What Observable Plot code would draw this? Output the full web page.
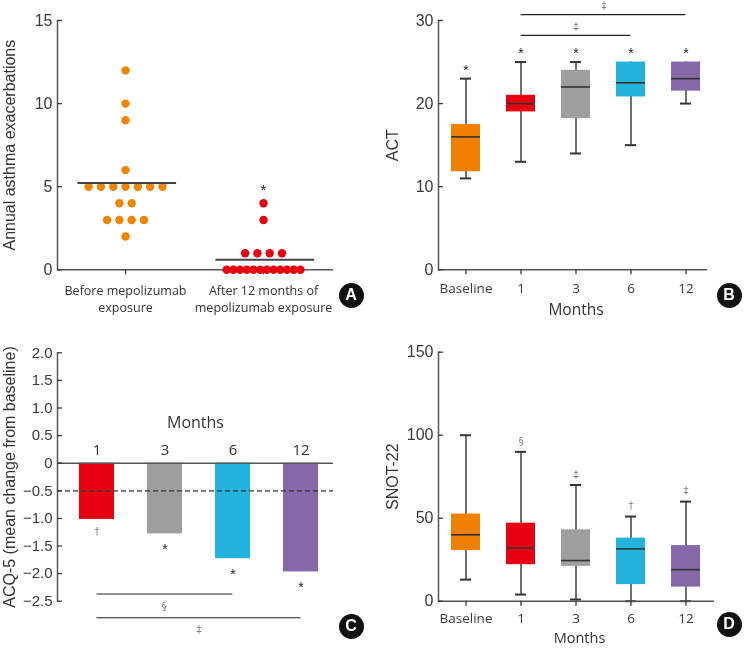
<!DOCTYPE html>
<html><head><meta charset="utf-8">
<script src="https://cdn.jsdelivr.net/npm/d3@7"></script>
<script src="https://cdn.jsdelivr.net/npm/@observablehq/plot@0.6"></script>
<style>
body{margin:0;background:#fff;}
#fig{position:relative;width:748px;height:648px;background:#fff;}
.panel{position:absolute;width:374px;height:324px;}
.panel svg{will-change:transform;-webkit-font-smoothing:antialiased;}
.badge{position:absolute;width:25px;height:25px;border-radius:50%;background:#111;color:#fff;font:bold 16px "Liberation Sans",Arial,sans-serif;display:flex;align-items:center;justify-content:center;}
</style></head><body><div id="fig"></div>
<script>
// ---------- data ----------
// Panel A
const groupsA = ["Before mepolizumab\nexposure", "After 12 months of\nmepolizumab exposure"];
const exacerbBefore = [12, 10, 9, 6, 5, 5, 5, 5, 5, 5, 5, 4, 4, 3, 3, 3, 3, 2];
const exacerbAfter = [4, 3, 1, 1, 1, 1, 0, 0, 0, 0, 0, 0, 0, 0, 0, 0, 0, 0];
const colorsA = ["#F08300", "#E60012"];

// Panels B & D
const months = ["Baseline", "1", "3", "6", "12"];
const boxColors = ["#F08000", "#E60012", "#9E9E9E", "#22B4DC", "#8667A8"];
const actMin = [11, 13, 14, 15, 20];
const actQ1 = [11.8, 19, 18.2, 20.8, 21.5];
const actMed = [16, 20, 22, 22.5, 23];
const actQ3 = [17.5, 21, 24, 25, 25];
const actMax = [23, 25, 25, 25, 25];
const actSig = ["*", "*", "*", "*", "*"];
const actBrackets = [{from: "1", to: "6", label: "\u2021"}, {from: "1", to: "12", label: "\u2021"}];

const snotMin = [13, 4, 1, 0, 0];
const snotQ1 = [30.5, 22, 21, 10, 8.5];
const snotMed = [40, 32, 24.5, 31.5, 19];
const snotQ3 = [52.5, 47, 43, 38, 33.5];
const snotMax = [100, 90, 70, 51, 60];
const snotSig = ["", "\u00A7", "\u2021", "\u2020", "\u2021"];

// Panel C
const acqMonths = ["1", "3", "6", "12"];
const acqChange = [-1.02, -1.28, -1.73, -1.97];
const acqColors = ["#E60012", "#9E9E9E", "#22B4DC", "#8667A8"];
const acqSig = ["\u2020", "*", "*", "*"];
const acqBrackets = [{from: "1", to: "6", label: "\u00A7"}, {from: "1", to: "12", label: "\u2021"}];

// ---------- helpers ----------
const FNUM = '"Liberation Sans", Arial, sans-serif';
const FLAB = '"Open Sans", sans-serif';
const FSYM = '"DejaVu Sans", "Liberation Sans", sans-serif';
const AX = "#555";
const TXT = "#333";
const SYM = "#808080";
const fig = document.getElementById("fig");

function place(node, left, top) {
  const d = document.createElement("div");
  d.className = "panel"; d.style.left = left + "px"; d.style.top = top + "px";
  d.appendChild(node); fig.appendChild(d);
}
function badge(letter, cx, cy) {
  const b = document.createElement("div");
  b.className = "badge"; b.textContent = letter;
  b.style.left = (cx - 12.5) + "px"; b.style.top = (cy - 12.5) + "px";
  fig.appendChild(b);
}
function yAxis(ticks, fs, fmt) {
  return Plot.axisY({ticks, tickSize: -5, tickPadding: 10, fontSize: fs, fontFamily: FNUM,
    color: "#3a3a3a", strokeWidth: 1.3, label: null, tickFormat: fmt});
}
function yTitle(t, dx) {
  return Plot.text([t], {frameAnchor: "left", rotate: -90, dx, textAnchor: "middle", lineAnchor: "middle",
    fontSize: 16, fontFamily: FNUM, fill: TXT});
}
const baseStyle = {background: "white", fontFamily: FNUM, overflow: "visible"};

// ---------- Panel A ----------
const unitA = 12.3 / 138;
function swarm(values, gi) {
  const counts = d3.rollup(values, v => v.length, d => d);
  const seen = new Map();
  return values.map(v => {
    const n = counts.get(v), i = seen.get(v) || 0; seen.set(v, i + 1);
    const step = n <= 7 ? 1 : 6 / (n - 1);
    return {g: gi, v, x: gi + (i - (n - 1) / 2) * step * unitA};
  });
}
const dotsBefore = swarm(exacerbBefore, 0);
const dotsAfter = swarm(exacerbAfter, 1);
const meansA = [d3.mean(exacerbBefore), d3.mean(exacerbAfter)];

place(Plot.plot({
  width: 374, height: 324, marginLeft: 57, marginRight: 41, marginTop: 20, marginBottom: 54.7,
  style: baseStyle,
  x: {domain: [-0.493, 1.507]},
  y: {domain: [0, 15]},
  marks: [
    Plot.frame({anchor: "left", stroke: AX, strokeWidth: 1.5}),
    Plot.ruleY([0], {stroke: AX, strokeWidth: 1.5}),
    yAxis([0, 5, 10, 15], 16),
    Plot.axisX({ticks: [0, 1], tickSize: 5, tickFormat: () => "", color: "#3a3a3a", strokeWidth: 1.3, label: null}),
    Plot.dot(dotsBefore, {x: "x", y: "v", r: 4.2, fill: colorsA[0]}),
    Plot.dot(dotsAfter, {x: "x", y: "v", r: 4.2, fill: colorsA[1]}),
    Plot.ruleY(meansA, {y: d => d, x1: (d, i) => i - 0.345, x2: (d, i) => i + 0.37, stroke: "#444", strokeWidth: 2}),
    Plot.text(["*"], {x: 1, y: d3.max(exacerbAfter) + 1, dy: 4, fontSize: 14, fontFamily: FNUM, fill: "#222"}),
    Plot.text(groupsA, {x: (d, i) => i, frameAnchor: "bottom", dy: 13, lineAnchor: "top", lineHeight: 1.36,
      fontSize: 12.5, fontFamily: FLAB, fill: TXT}),
    yTitle("Annual asthma exacerbations", -48)
  ]
}), 0, 0);
badge("A", 351, 295);

// ---------- Panels B & D (box plots) ----------
function boxPanel({mins, q1s, meds, q3s, maxs, sig, domain, ticks, title, marginTop, marginBottom, marginRight, sigDy, sigSize, sigColor, sigFont, monthsDy, monthsSize, tickPad, extra}) {
  const data = months.map((m, i) => ({m, min: mins[i], q1: q1s[i], med: meds[i], q3: q3s[i], max: maxs[i], c: boxColors[i], s: sig[i]}));
  return Plot.plot({
    width: 374, height: 324, marginLeft: 64, marginRight, marginTop, marginBottom,
    style: baseStyle,
    x: {type: "band", domain: months, range: [64.2, 339.2], paddingInner: 0.47, paddingOuter: 0.235},
    y: {domain},
    color: {type: "identity"},
    marks: [
      Plot.ruleX(data, {x: "m", y1: "min", y2: "max", stroke: "#707070", strokeWidth: 2}),
      Plot.tickY(data.filter(d => d.max > d.q3), {x: "m", y: "max", insetLeft: 9, insetRight: 9, stroke: "#333", strokeWidth: 2}),
      Plot.tickY(data.filter(d => d.min < d.q1), {x: "m", y: "min", insetLeft: 9, insetRight: 9, stroke: "#333", strokeWidth: 2}),
      Plot.barY(data, {x: "m", y1: "q1", y2: "q3", fill: "c"}),
      Plot.tickY(data, {x: "m", y: "med", stroke: "#333", strokeWidth: 1.6}),
      Plot.frame({anchor: "left", stroke: AX, strokeWidth: 1.5}),
      Plot.ruleY([0], {stroke: AX, strokeWidth: 1.5}),
      yAxis(ticks, 16),
      Plot.axisX({tickSize: 5, tickPadding: tickPad, fontSize: 13.5, fontFamily: FLAB, color: "#3a3a3a", strokeWidth: 1.3, label: null}),
      Plot.text(data.filter(d => d.s), {x: "m", y: "max", text: "s", dy: sigDy, fontSize: sigSize, fontFamily: sigFont, fill: sigColor}),
      Plot.text(["Months"], {frameAnchor: "bottom", lineAnchor: "middle", dy: monthsDy, dx: 3, fontSize: monthsSize, fontFamily: FLAB, fill: TXT}),
      yTitle(title, -46),
      ...(extra || [])
    ]
  });
}

const bw = 55 * 0.53 / 2;
const actBr = actBrackets.map((b, i) => ({...b, y: [28.2, 30.7][i], lx: ["3", "6"][i]}));
place(boxPanel({
  mins: actMin, q1s: actQ1, meds: actMed, q3s: actQ3, maxs: actMax, sig: actSig,
  domain: [0, 30], ticks: [0, 10, 20, 30], title: "ACT",
  marginTop: 20, marginBottom: 54.7, marginRight: 41, sigDy: -8.5, sigSize: 14, sigColor: "#222", sigFont: FNUM,
  monthsDy: 40.5, monthsSize: 15.5, tickPad: 9,
  extra: [
    Plot.ruleY(actBr, {x1: "from", x2: "to", y: "y", insetLeft: bw, insetRight: bw, stroke: "#222", strokeWidth: 1.2}),
    Plot.text(actBr.slice(0, 1), {x: "lx", y: "y", text: "label", dy: -9, fontSize: 10, fontFamily: FSYM, fill: SYM}),
    Plot.text(actBr.slice(1), {x: "lx", y: "y", text: "label", dy: -9, dx: -27, fontSize: 10, fontFamily: FSYM, fill: SYM})
  ]
}), 374, 0);
badge("B", 729, 295);

place(boxPanel({
  mins: snotMin, q1s: snotQ1, meds: snotMed, q3s: snotQ3, maxs: snotMax, sig: snotSig,
  domain: [0, 150], ticks: [0, 50, 100, 150], title: "SNOT-22",
  marginTop: 27.7, marginBottom: 47.3, marginRight: 34, sigDy: -10.5, sigSize: 10, sigColor: SYM, sigFont: FSYM,
  monthsDy: 37.3, monthsSize: 14.5, tickPad: 7
}), 374, 324);
badge("D", 729, 624);

// ---------- Panel C ----------
const acqData = acqMonths.map((m, i) => ({m, v: acqChange[i], c: acqColors[i], s: acqSig[i]}));
const cbw = 68.7 * 0.51 / 2;
const acqBr = acqBrackets.map((b, i) => ({...b, y: [-2.37, -2.8][i]}));
const fmtC = d => d === 0 ? "0" : (d < 0 ? "\u2212" : "") + Math.abs(d).toFixed(1);
place(Plot.plot({
  width: 374, height: 324, marginLeft: 57, marginRight: 41, marginTop: 28.3, marginBottom: 47.3,
  style: baseStyle,
  x: {type: "band", domain: acqMonths, range: [59.5, 336.5], paddingInner: 0.49, paddingOuter: 0.254, axis: null},
  y: {domain: [-2.5, 2.0]},
  color: {type: "identity"},
  marks: [
    Plot.barY(acqData, {x: "m", y: "v", fill: "c"}),
    Plot.ruleY([0], {stroke: AX, strokeWidth: 1.5}),
    Plot.ruleY([-0.5], {stroke: "#333", strokeWidth: 1.2, strokeDasharray: "5,3"}),
    Plot.frame({anchor: "left", stroke: AX, strokeWidth: 1.5}),
    yAxis(d3.range(-2.5, 2.01, 0.5).map(d => Math.round(d * 10) / 10), 15, fmtC),
    Plot.text(acqMonths, {x: d => d, y: 0, dy: -13.5, fontSize: 15, fontFamily: FLAB, fill: TXT}),
    Plot.text(["Months"], {y: 0, dy: -40.5, fontSize: 16, fontFamily: FLAB, fill: TXT}),
    Plot.text(acqData.filter(d => d.s === "*"), {x: "m", y: "v", text: "s", dy: 16, fontSize: 14, fontFamily: FNUM, fill: "#222"}),
    Plot.text(acqData.filter(d => d.s !== "*"), {x: "m", y: "v", text: "s", dy: 12, fontSize: 10, fontFamily: FSYM, fill: SYM}),
    Plot.ruleY(acqBr, {x1: "from", x2: "to", y: "y", insetLeft: cbw, insetRight: cbw, stroke: "#222", strokeWidth: 1.2}),
    Plot.text(acqBr.slice(0, 1), {x: "from", y: "y", text: "label", dx: 67, dy: 12.4, fontSize: 10, fontFamily: FSYM, fill: SYM}),
    Plot.text(acqBr.slice(1), {x: "from", y: "y", text: "label", dx: 102, dy: 11.6, fontSize: 10, fontFamily: FSYM, fill: SYM}),
    yTitle("ACQ-5 (mean change from baseline)", -47.5)
  ]
}), 0, 324);
badge("C", 351, 626);
</script></body></html>
